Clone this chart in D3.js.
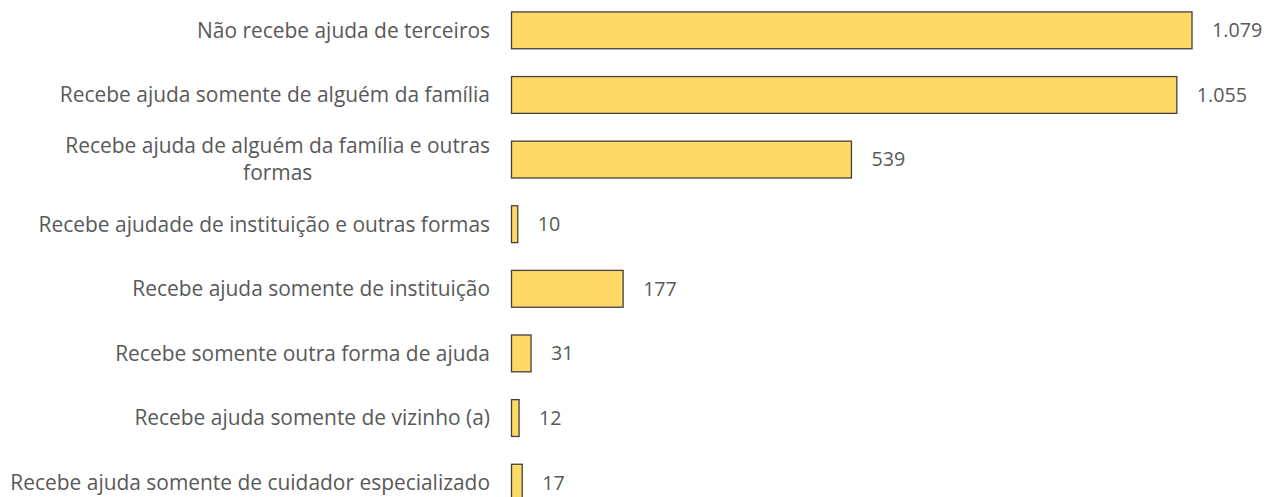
<!DOCTYPE html>
<html>
<head>
<meta charset="utf-8">
<script src="https://cdn.jsdelivr.net/npm/d3@7"></script>
<style>
  html, body { margin: 0; padding: 0; background: #fff; }
  svg { display: block; }
  text { font-family: "Open Sans", "Noto Sans", sans-serif; fill: #595959; }
</style>
</head>
<body>
<svg id="chart" width="1266" height="497"></svg>
<script>
// Categories (labels may hold explicit line breaks)
const categories = [
  "Não recebe ajuda de terceiros",
  "Recebe ajuda somente de alguém da família",
  "Recebe ajuda de alguém da família e outras\nformas",
  "Recebe ajudade de instituição e outras formas",
  "Recebe ajuda somente de instituição",
  "Recebe somente outra forma de ajuda",
  "Recebe ajuda somente de vizinho (a)",
  "Recebe ajuda somente de cuidador especializado"
];
const values = [1079, 1055, 539, 10, 177, 31, 12, 17];

const svg = d3.select("#chart");

const x = d3.scaleLinear()
  .domain([0, d3.max(values)])
  .range([511.5, 1192]);

const y = d3.scaleBand()
  .domain(categories)
  .range([-1, 514])
  .paddingInner(0.43)
  .paddingOuter(0.2);

const ptBR = d3.formatLocale({ decimal: ",", thousands: ".", grouping: [3], currency: ["R$", ""] });
const fmt = ptBR.format(",d");

const data = categories.map((c, i) => ({ cat: c, value: values[i] }));

// Bars
svg.append("g").selectAll("rect")
  .data(data)
  .join("rect")
  .attr("x", x(0))
  .attr("y", d => y(d.cat))
  .attr("width", d => x(d.value) - x(0))
  .attr("height", y.bandwidth())
  .attr("fill", "#FFD966")
  .attr("stroke", "#404040")
  .attr("stroke-width", 1.3);

// Category label font size: longest line spans the label column (10..490)
const labelRight = 490;
const labelLeft = 10;
const probe = svg.append("text").attr("font-size", 20)
  .text("Recebe ajuda somente de cuidador especializado");
const labelSize = 20 * (labelRight - labelLeft) / probe.node().getComputedTextLength();
probe.remove();

// Value labels
svg.append("g").selectAll("text")
  .data(data)
  .join("text")
  .attr("x", d => x(d.value) + 20)
  .attr("y", d => y(d.cat) + y.bandwidth() / 2)
  .attr("dy", "0.35em")
  .attr("font-size", labelSize * 0.94)
  .text(d => fmt(d.value));

// Category labels, right-aligned block, lines centred within the block
const lineGap = 27;
const catG = svg.append("g").attr("font-size", labelSize);
data.forEach(d => {
  const lines = d.cat.split("\n");
  const cy = y(d.cat) + y.bandwidth() / 2;
  const g = catG.append("g");
  const texts = lines.map((ln, i) => g.append("text")
    .attr("y", cy + (i - (lines.length - 1) / 2) * lineGap)
    .attr("dy", "0.35em")
    .text(ln));
  if (lines.length === 1) {
    texts[0].attr("x", labelRight).attr("text-anchor", "end");
  } else {
    const w = d3.max(texts, t => t.node().getComputedTextLength());
    texts.forEach(t => t.attr("x", labelRight - w / 2).attr("text-anchor", "middle"));
  }
});
</script>
</body>
</html>
